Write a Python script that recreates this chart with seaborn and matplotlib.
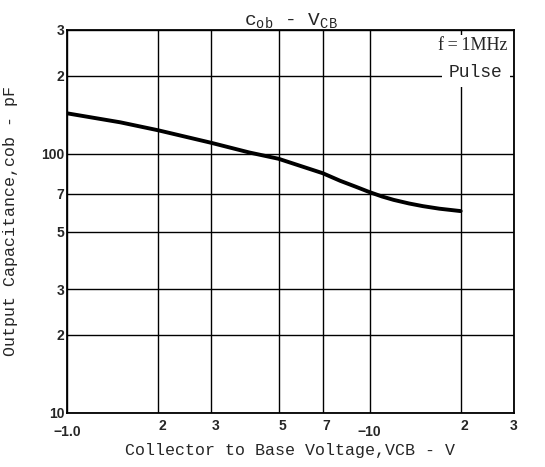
import numpy as np
import pandas as pd
import seaborn as sns
import matplotlib.pyplot as plt

# curve (|VCB| in volts, Cob in pF)
vcb = [1.0, 1.5, 2.0, 3.0, 4.0, 5.0, 7.0, 8.0, 9.0, 10.0, 11.0, 12.0, 13.5, 15.0, 17.0, 20.0]
cob = [143, 132, 123, 110, 101, 95.5, 84, 78.5, 74.5, 71, 68.3, 66.3, 64.2, 62.7, 61.3, 60]

x_ticks = [1, 2, 3, 5, 7, 10, 20, 30]
x_labels = ["\u22121.0", "2", "3", "5", "7", "\u221210", "2", "3"]
y_ticks = [10, 20, 30, 50, 70, 100, 200, 300]
y_labels = ["10", "2", "3", "5", "7", "100", "2", "3"]

df = pd.DataFrame({"VCB": vcb, "Cob": cob})

sns.set_style("white")
plt.rcParams['font.family'] = ['Liberation Mono', 'DejaVu Sans']

fig = plt.figure(figsize=(5.45, 4.67), dpi=100)
ax = fig.add_axes([0.123, 0.116, 0.82, 0.82])

sns.lineplot(data=df, x="VCB", y="Cob", color="black", linewidth=2.8, ax=ax)
ax.set_xscale("log")
ax.set_yscale("log")
ax.set_xlim(1, 30)
ax.set_ylim(10, 300)

ax.set_xticks(x_ticks)
ax.set_yticks(y_ticks)
ax.minorticks_off()
ax.set_xticklabels([])
ax.set_yticklabels(y_labels, fontfamily="Liberation Sans", fontweight="bold", fontsize=10)
ax.tick_params(length=0, pad=2)
ax.grid(True, color="black", linewidth=1.0)
for s in ax.spines.values():
    s.set_color("black")
    s.set_linewidth(1.3)

# x tick labels: the -1.0 and -10 sit lower than the digits
trans = ax.get_xaxis_transform()
for xv, lab in zip(x_ticks, x_labels):
    low = lab.startswith("\u2212")
    ax.text(xv, -0.033 if low else -0.015, lab, transform=trans,
            ha="center" if (low or xv == 30) else "left", va="top",
            fontfamily="Liberation Sans", fontweight="bold", fontsize=10)

ax.set_title("c$_{\\mathregular{ob}}$ - V$_{\\mathregular{CB}}$", fontsize=14, pad=3)
ax.set_xlabel("Collector to Base Voltage,VCB - V", fontsize=12)
ax.xaxis.set_label_coords(0.5, -0.08)
ax.set_ylabel("Output Capacitance,cob - pF", fontsize=12)
ax.yaxis.set_label_coords(-0.11, 0.5)

ax.text(0.985, 0.958, "f\u2009=\u20091MHz", transform=ax.transAxes, ha="right", va="center",
        fontsize=13, fontfamily="Liberation Serif",
        bbox=dict(facecolor="white", edgecolor="none", pad=2))
ax.text(0.975, 0.89, "Pulse", transform=ax.transAxes, ha="right", va="center",
        fontsize=13, bbox=dict(facecolor="white", edgecolor="none", pad=5))

fig.savefig("out.png", dpi=100)
